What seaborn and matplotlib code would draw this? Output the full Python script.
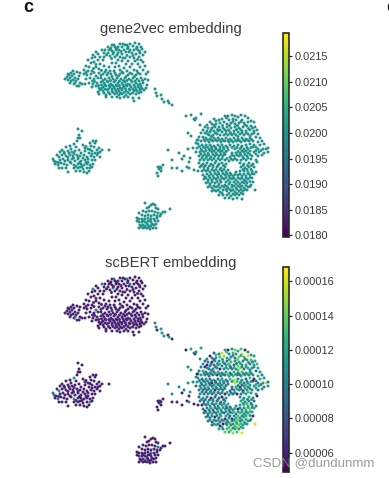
import numpy as np
import pandas as pd
import matplotlib
matplotlib.use("Agg")
import matplotlib.pyplot as plt
from matplotlib.cm import ScalarMappable
from matplotlib.colors import Normalize
import seaborn as sns

# embedding position (x, y) and scBERT value (in 1e-5) read per cell
cluster_a = [
(65,79,6),(67,77,6),(68,80,6),(69,75,6),(70,78,6),(71,73,6),(72,76,6),(73,71,6),(74,74,6),(75,78,6),(71,81,6),(73,80,6),(76,81,6),(78,79,6),(79,76,6),(77,72,6),(80,73,6),(70,83,6),(74,84,6),(75,83,10),(77,86,6),(79,86,6),(80,83,6),(82,84,6),(68,74,6),
(112,45,6),(114,45,10),(120,44,6),(123,44,6),(125,45,6),(127,45,10),(130,44,6),(135,43,6),(139,44,6),(108,47,6),(111,48,6),(115,47,6),(118,47,6),(122,47,6),(128,47,6),(133,46,6),(137,47,6),(141,47,6),
(102,50,10),(105,50,6),(109,50,6),(112,51,6),(116,50,6),(119,50,6),(124,50,6),(126,52,6),(130,50,10),(134,50,6),(138,50,6),(142,49,6),(145,52,6),(96,52,6),(98,54,6),(93,55,10),(104,53,6),(108,53,6),(113,54,10),(118,53,6),(122,54,6),(132,53,6),(136,54,6),(140,53,6),(143,55,6),
(92,58,6),(95,57,6),(100,57,6),(104,57,6),(110,56,6),(115,57,6),(120,57,6),(125,58,6),(130,57,6),(134,58,6),(139,57,6),(88,60,6),(98,60,6),(103,60,6),(118,60,6),(122,61,6),(128,61,6),(135,61,6),(141,60,6),(91,63,6),(94,62,6),(100,64,6),(112,63,6),(116,63,6),(126,64,6),(132,64,6),(138,64,6),(143,62,6),
(86,66,6),(89,67,6),(96,67,6),(104,66,6),(109,67,6),(115,67,6),(119,66,6),(124,68,6),(130,67,6),(140,67,6),(145,66,6),(84,70,6),(88,71,6),(92,71,6),(99,69,6),(106,70,6),(110,71,6),(114,71,6),(120,70,6),(127,71,6),(134,70,6),(137,71,6),(143,70,6),
(84,74,6),(87,75,6),(91,74,6),(96,76,10),(99,73,6),(103,74,6),(107,75,6),(111,74,6),(116,75,6),(120,74,6),(123,73,6),(128,75,6),(132,74,6),(136,75,6),(140,74,6),(146,74,6),(148,72,6),
(86,79,6),(90,78,6),(94,79,6),(98,78,6),(101,78,6),(105,79,6),(109,78,6),(113,79,6),(117,78,6),(121,79,6),(125,78,6),(129,79,6),(133,78,6),(137,79,6),(141,78,6),(145,79,6),(148,80,6),
(85,84,6),(89,83,6),(93,84,6),(97,83,6),(101,82,6),(104,83,6),(108,82,6),(111,84,6),(114,82,6),(118,83,6),(122,83,6),(125,82,6),(128,84,6),(132,82,6),(136,83,6),(140,84,6),(143,83,6),(147,85,6),
(92,87,6),(96,86,6),(99,88,6),(103,87,6),(106,86,6),(110,87,6),(114,87,6),(117,86,6),(120,88,6),(124,87,6),(127,86,6),(131,87,6),(135,87,6),(138,87,6),(141,86,6),(146,88,6),
(98,92,6),(100,90,6),(103,91,6),(107,90,6),(112,91,6),(116,91,6),(119,91,6),(122,90,6),(126,91,6),(130,90,6),(134,91,6),(137,91,6),(140,90,6),(144,90,6),
(99,94,6),(104,93,6),(106,95,6),(110,94,6),(115,94,6),(119,95,6),(122,94,6),(126,95,6),(130,94,6),(136,94,6),(139,93,6),
(106,97,6),(112,97,6),(117,97,6),(120,98,6),(124,97,6),(128,97,6),(133,98,6),(139,98,6),(134,101,6),
(155,89,10),(156,93,10),(157,96,6),(161,95,11),(162,99,11),(164,102,11),(168,101,6),(169,103,11),(172,105,6),
]

extra_a = [
(110.5,49,6),(113.5,52.5,6),(116.5,48.5,6),(121,51.5,6),(127.5,48.5,6),(129,52,6),(136.5,48.5,6),(139.5,51.5,6),(106.5,55,6),(111.5,58.5,6),(117,55,6),(133,55.5,6),(137.5,59.5,6),
(101,75.5,6),(105,72,6),(112,76.5,6),(115,73,6),(118.5,76,6),(122,72,6),(126,76.5,6),(130,73,6),(134.5,76.5,6),(138,73,6),(103,80.5,6),(107,81,6),(110.5,80.5,6),(115.5,80.5,6),(119.5,81,6),(123.5,80.5,6),(127,80.5,6),(131,80.5,6),(135,81,6),(139,81,6),(142.5,80.5,6),
(94.5,81.5,6),(98.5,85.5,6),(101.5,85,6),(105,85,6),(109,85.5,6),(112.5,85.5,6),(116,85,6),(119.5,85.5,6),(123,85,6),(126,85,6),(130,85,6),(134,85,6),(138,85,6),(142,88.5,6),
(101.5,88.5,6),(105,89,6),(108.5,89,6),(112,89,6),(115,89,6),(118,89,6),(122,88.5,6),(125.5,89,6),(129,89,6),(133,89,6),(136,89.5,6),(140,88.5,6),(108.5,92.5,6),(113,92.5,6),(117,93,6),(120.5,93,6),(124,92.5,6),(128,92.5,6),(132.5,93,6),(141,92,6),
(96,64.5,6),(86,72.5,6),(93.5,68.5,6),(101.5,70.5,6),(108,73,6),(94,72.5,6),(123,58,6),(127,55.5,6),(92.5,81,6),
]

cluster_b = [
(78,129,6),(82,131,6),(79,135,6),(78,138,6),(80,138,6),(77,141,6),(90,143,6),(91,146,6),(93,141,6),(95,143,6),(96,141,6),(74,144,11),(70,146,6),(66,147,6),(71,149,6),(76,147,6),(83,145,6),(85,148,6),(88,149,6),(94,147,6),(99,148,6),(102,150,6),(97,150,6),(109,150,6),
(62,150,6),(60,152,6),(64,152,6),(68,151,6),(72,152,6),(75,151,6),(79,150,6),(81,153,6),(85,151,6),(89,153,6),(92,151,6),(95,153,6),(98,153,6),(100,152,6),
(57,155,6),(59,157,11),(62,155,6),(66,156,6),(70,155,6),(73,156,6),(77,155,6),(80,156,6),(84,155,6),(87,157,6),(91,156,6),(94,157,6),(97,155,6),(100,157,6),
(53,159,10),(54,161,10),(56,162,6),(60,160,6),(63,159,6),(65,161,6),(68,160,6),(72,159,6),(75,161,6),(78,159,6),(81,161,6),(85,160,6),(88,159,6),(92,160,6),(95,160,6),
(55,164,6),(58,165,10),(61,163,6),(64,164,6),(67,165,6),(71,163,6),(74,165,11),(78,164,6),(81,164,6),(84,165,6),(87,164,6),(90,165,6),(93,164,6),
(59,168,6),(62,168,6),(66,168,6),(74,168,6),(78,168,6),(80,167,6),(83,169,6),(87,168,6),(90,168,11),(92,167,6),
(68,172,6),(76,171,6),(80,171,6),(84,172,6),(87,173,6),(89,171,6),
(64.5,153.5,6),(69,153,6),(74,153.5,6),(78,157.5,6),(83,158,6),(86,162.5,6),(79.5,162.5,6),(73.5,158,6),(68,157.5,6),(70,162,6),(76,166.5,6),(82,166.5,6),(88,162,6),(92,154,6),(90,149.5,6),(86,146.5,6),(58.5,162.5,6),
]

cluster_c = [
(145,203,6),(147,208,6),(149,207,6),(151,205,6),(153,204,6),(155,205,6),(156,208,6),(170,209,6),(163,212,6),(158,209,6),(165,212,6),
(139,213,6),(143,211,6),(146,212,6),(149,211,6),(152,211,6),(155,212,6),(158,213,10),(161,214,6),(142,215,6),(145,216,6),(148,215,6),(151,216,6),(154,215,6),(157,216,6),(160,216,6),
(137,218,6),(139,219,6),(142,219,6),(145,219,6),(148,218,6),(151,219,10),(154,219,6),(157,218,6),(137,221,6),(139,222,6),(142,222,6),(145,222,6),(148,221,6),(151,222,6),(155,221,6),(158,221,6),
(140,225,6),(143,225,6),(145,226,10),(148,225,6),(151,226,6),(154,225,6),(156,224,6),(143,228,6),(147,228,6),(150,229,6),(153,228,6),(156,228,6),(139,228,6),
(141,226.5,6),(145,227.5,6),(149,227,6),(152,224,6),(147,223.5,6),(143,220.5,6),(150,220.5,6),
]

cluster_d = [
(158,167,6),(160,167,6),(161,168,6),(163,165,6),(159,169,6),(161,171,6),(157,173,6),(158,176,6),
]

scatter_f = [
(168,150,11),(172,160,11),(179,153,11),(184,156,11),(182,159,6),(188,149,11),(193,148,11),(190,158,12),(189,162,6),(172,168,6),(177,168,6),(182,171,6),(187,167,6),(189,168,11),(194,170,6),(196,143,11),(198,140,11),(195,120,6),(186,116,6),(191,115,12),(194,119,10),(196,118,10),(201,114,12),(200,125,11),(188,133,11),(191,136,12),
]

cluster_e = [
(222,119,16),(225,116,12),(228,116,6),(232,115,11),(235,116,14),(238,117,12),(241,115,13),(245,116,6),(248,118,11),(242,120,16),(233,119,13),(229,120,10),(236,120,11),(219,120,10),(216,121,13),(214,119,9),
(210,122,6),(212,124,10),(216,124,11),(220,123,13),(224,122,15),(227,124,12),(231,123,11),(235,124,9),(239,123,14),(244,123,13),(248,122,16),(251,121,12),(254,122,11),(207,125,11),
(205,127,9),(208,128,10),(212,128,6),(215,127,12),(219,127,10),(223,128,11),(227,127,9),(231,128,13),(235,127,11),(239,128,12),(243,127,10),(247,126,11),(251,126,13),(255,127,12),
(203,130,11),(207,131,6),(210,132,10),(214,131,9),(218,131,11),(222,132,10),(226,131,12),(230,132,11),(234,131,9),(238,132,14),(242,131,11),(246,131,12),(250,130,10),(254,131,11),(257,130,13),
(201,133,10),(205,133,6),(209,135,9),(213,135,10),(217,134,11),(220,135,6),(224,135,11),(228,135,13),(232,135,10),(236,135,11),(240,134,15),(244,135,10),(248,134,12),(252,134,11),(258,134,12),
(199,137,10),(203,137,12),(206,138,10),(210,139,11),(214,138,9),(218,138,12),(222,139,10),(226,138,11),(230,139,9),(234,138,12),(238,139,10),(242,138,13),(246,139,11),(250,138,12),(256,137,10),(260,138,11),
(197,140,6),(201,141,11),(205,141,10),(209,142,9),(213,141,11),(217,141,6),(221,142,10),(225,141,9),(229,142,11),(233,142,13),(237,141,10),(241,142,11),(245,141,12),(249,141,10),(253,141,11),(258,142,12),(262,141,10),
(198,144,11),(202,145,9),(206,145,11),(210,145,10),(214,146,12),(218,145,9),(222,145,11),(226,146,10),(230,145,13),(234,146,15),(238,145,10),(242,146,11),(246,145,9),(250,144,13),(254,145,6),(260,145,12),(264,144,11),
(197,148,11),(201,149,10),(205,148,12),(209,149,9),(212,149,6),(216,149,10),(220,149,11),(224,149,9),(228,150,10),(235,149,16),(240,149,11),(244,149,10),(248,149,11),(253,147,6),(258,149,10),(263,149,11),(266,149,16),(268,148,10),
(196,152,9),(200,152,11),(204,152,10),(208,153,12),(212,152,9),(216,153,11),(220,152,10),(224,153,13),(232,153,10),(236,153,12),(240,153,6),(244,152,11),(248,153,10),(254,152,11),(259,152,12),(264,153,10),(268,152,11),
(199,156,10),(203,156,9),(207,156,11),(211,157,10),(215,156,6),(219,156,12),(223,156,10),(230,157,9),(234,156,11),(239,156,10),(243,157,6),(247,156,11),(252,156,10),(258,156,9),(262,155,11),
(200,160,11),(204,160,10),(208,160,11),(212,160,9),(216,161,10),(220,160,11),(225,160,6),(229,161,11),(233,160,9),(237,160,6),(241,160,10),(246,160,12),(251,159,11),(256,160,12),
(199,163,9),(203,164,11),(207,163,10),(211,164,6),(215,163,9),(219,164,10),(222,163,6),(226,164,11),(240,163,10),(244,164,11),(249,163,12),(253,164,10),(257,162,6),
(200,167,10),(204,167,9),(208,168,12),(213,167,10),(217,167,9),(221,168,10),(225,167,11),(241,167,12),(245,168,10),(249,167,11),(254,167,9),
(198,171,6),(202,171,6),(206,171,10),(210,172,11),(214,171,9),(218,172,10),(222,171,12),(226,172,10),(230,173,9),(236,172,11),(240,171,12),(244,171,13),(248,172,12),(252,171,10),(256,172,11),
(203,175,10),(205,177,6),(209,176,11),(213,176,9),(217,175,10),(221,176,11),(225,175,12),(229,176,10),(233,176,11),(238,175,6),(242,176,11),(246,176,13),(250,175,15),(254,174,12),
(204,179,10),(208,180,9),(212,180,12),(216,179,10),(220,180,11),(224,179,9),(228,180,11),(232,179,12),(236,180,10),(240,179,13),(244,180,11),(248,179,12),(252,178,11),
(206,183,11),(210,184,10),(215,183,6),(219,184,9),(225,185,6),(229,184,10),(232,185,6),(236,184,12),(240,184,11),(244,183,12),(247,183,16),(253,182,6),(251,185,12),
(208,187,10),(212,188,9),(216,187,11),(220,188,10),(224,187,13),(228,188,9),(232,187,11),(236,188,12),(240,187,10),(244,188,13),(248,187,12),
(212,191,10),(216,191,13),(220,192,6),(223,190,6),(227,191,12),(231,191,10),(235,192,13),(239,191,14),(243,191,12),(247,190,11),(255,190,16),
(219,195,12),(223,195,11),(227,195,13),(231,196,14),(235,195,12),(239,195,11),(243,194,13),(225,198,14),(229,198,12),(233,199,15),(237,198,13),(242,199,16),
]

extra_e = [
(222.5,125.5,11),(226.5,118,13),(229.5,125.5,12),(233,121.5,10),(237.5,125.5,14),(241,121.5,12),(245,125,11),(214,125.5,9),(217.5,129.5,11),(211,130,10),(224.5,129.5,10),(228.5,130,13),(236.5,129.5,10),(240.5,129.5,12),(248.5,128.5,11),(252.5,128,10),
(207.5,134,11),(211.5,136.5,10),(215.5,133,9),(220,130,13),(226,133.5,11),(230.5,133.5,9),(234,133.5,12),(238,136.5,13),(242,133,10),(246,133,12),(250,136,10),(254,133,11),
(204,139.5,11),(207.5,140,9),(211.5,140,10),(215.5,140,12),(219.5,140,11),(223.5,140.5,10),(228,140.5,13),(231.5,140.5,10),(235.5,140.5,12),(239.5,140.5,9),(243.5,140,10),(247.5,140,12),(251.5,139.5,11),
(199.5,146.5,10),(203.5,147,9),(207.5,147,11),(211.5,147,10),(215.5,147.5,9),(220,147,12),(223.5,147.5,11),(227.5,147.5,10),(232,147.5,11),(237,147.5,13),(241,147.5,12),(247,147.5,10),(251,147.5,11),(256,147,10),
(202,150.5,10),(206,150.5,11),(210,150.5,9),(214,151,12),(218,150.5,10),(222,151,11),(226,151.5,10),(238,151.5,11),(242,151,10),(246,151,13),(250,151,11),(256,150.5,12),(261,150.5,10),
(201,154,11),(205,154.5,9),(209,155,10),(213,154.5,12),(217,154.5,10),(221,154.5,9),(225,154.5,11),(232,155,9),(237,155,12),(241,155,10),(245,154.5,12),(250,154.5,10),(256,154,11),
(202,158,10),(206,158,9),(210,158.5,11),(214,158.5,10),(218,158.5,9),(222,158.5,10),(227,158.5,12),(231,159,10),(235,158.5,11),(243.5,158.5,11),(248,158,13),
(201.5,165.5,11),(205.5,165.5,10),(209.5,166,9),(213,165.5,11),(218,165.5,10),(223.5,165.5,9),(243,165.5,12),(247.5,165.5,10),(251.5,165.5,12),
(204,169.5,9),(208,170,11),(212,169.5,10),(216,169.5,12),(220,169.5,9),(224,169.5,10),(228,170,12),(243,169.5,11),(247,169.5,13),(251,169.5,10),
(207,174,10),(211,174,12),(215,173.5,9),(219,174,11),(223,173.5,12),(227,174,9),(231,174.5,11),(235,174.5,12),(240,174,10),(244,174,11),(248,173.5,12),(252,173.5,11),
(206,178,11),(210,178,10),(214,178,9),(218,177.5,12),(222,178,10),(226,177.5,11),(230,178,9),(234,178,13),(238,177.5,11),(242,178,12),(246,178,10),(250,177.5,13),
(208,182,9),(212,182,11),(217,181.5,10),(221,182,12),(226,182,11),(230,182,9),(234,182,11),(238,182,13),(242,182,10),(246,181.5,12),(250,181.5,11),
(210,186,11),(214,186,10),(218,186,12),(222,186,9),(227,186.5,11),(234,186,10),(238,186,14),(242,186,11),(246,185.5,12),(250,186.5,10),
(214,190,11),(218,190,10),(222,193,12),(226,189.5,10),(230,189.5,13),(233,190,11),(237,189.5,12),(241,189.5,13),(245,189.5,11),(229,193.5,13),(233,194,11),(237,193.5,14),(241,193,12),
]

cells = cluster_a + extra_a + cluster_b + cluster_c + cluster_d + scatter_f + cluster_e + extra_e
pos_x = [c[0] for c in cells]
pos_y = [c[1] for c in cells]
scbert_value = [c[2] * 1e-5 for c in cells]
gene2vec_value = [0.0200] * len(cells)

gene2vec_ticks = [0.0180, 0.0185, 0.0190, 0.0195, 0.0200, 0.0205, 0.0210, 0.0215]
gene2vec_labels = ["0.0180", "0.0185", "0.0190", "0.0195", "0.0200", "0.0205", "0.0210", "0.0215"]
scbert_ticks = [0.00006, 0.00008, 0.00010, 0.00012, 0.00014, 0.00016]
scbert_labels = ["0.00006", "0.00008", "0.00010", "0.00012", "0.00014", "0.00016"]

df = pd.DataFrame({"x": pos_x, "y": pos_y, "gene2vec": gene2vec_value, "scbert": scbert_value})

W, H = 389, 478
sns.set_style("white")
plt.rcParams["font.family"] = ["Liberation Sans", "DejaVu Sans"]
fig = plt.figure(figsize=(W / 100, H / 100), dpi=100)
TXT = "#3a3a3a"

def box(left, top, right, bottom):
    return [left / W, 1 - bottom / H, (right - left) / W, (bottom - top) / H]

panels = [
    ("gene2vec", "gene2vec embedding", 0, (0.01797, 0.02195), gene2vec_ticks, gene2vec_labels, (33, 237)),
    ("scbert", "scBERT embedding", 234, (0.0000487, 0.0001683), scbert_ticks, scbert_labels, (267, 472)),
]
for col, title, dy, lim, ticks, labels, (bar_top, bar_bot) in panels:
    ax = fig.add_axes(box(0, 38 + dy, 272, 240 + dy))
    sns.scatterplot(data=df, x="x", y="y", hue=col, palette="viridis", hue_norm=lim,
                    s=4.6, linewidth=0, legend=False, ax=ax)
    ax.set_xlim(0, 272)
    ax.set_ylim(240, 38)
    ax.set(xlabel="", ylabel="", xticks=[], yticks=[])
    sns.despine(ax=ax, left=True, bottom=True)
    ax.patch.set_alpha(0)
    fig.text(171 / W, 1 - (29 + dy) / H, title, ha="center", va="center", fontsize=10.6, color=TXT)

    cax = fig.add_axes(box(282.5, bar_top, 289, bar_bot))
    cb = fig.colorbar(ScalarMappable(Normalize(*lim), "viridis"), cax=cax)
    cb.set_ticks(ticks, labels=labels)
    cb.ax.tick_params(length=2.2, width=0.9, pad=2.2, labelsize=7.9, labelcolor=TXT, color="#222222", right=True)
    cb.outline.set_linewidth(1.2)
    cb.outline.set_edgecolor("#2a2a2a")

fig.text(23 / W, 1 - 8 / H, "c", fontsize=13, fontweight="bold", color="#111111", va="center", ha="left")
fig.text(386.5 / W, 1 - 8 / H, "c", fontsize=13, fontweight="bold", color="#111111", va="center", ha="left")
fig.text(253 / W, 1 - 463 / H, "CSDN @dundunmm", fontsize=9.6, color="#8a8a8a", alpha=0.85, va="center", ha="left")

fig.savefig("out.png", dpi=100, facecolor="white")
